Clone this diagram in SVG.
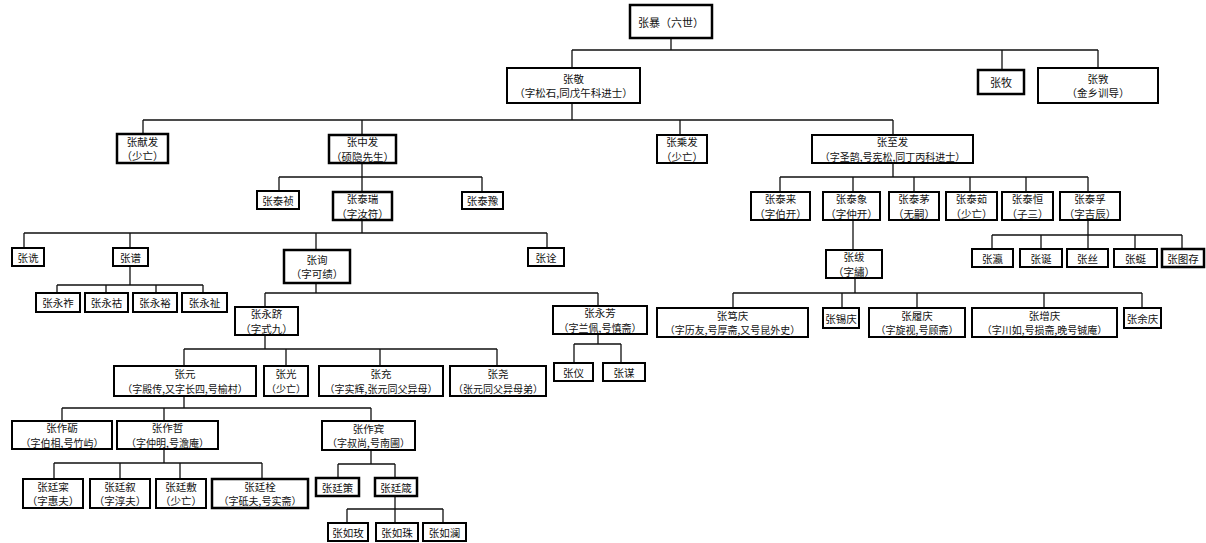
<svg xmlns="http://www.w3.org/2000/svg" width="1206" height="543" viewBox="0 0 1206 543">
<style>
rect{fill:#fff;stroke:#000;stroke-width:2}
text{font-family:"Noto Sans CJK SC","Noto Sans CJK TC",sans-serif;font-size:10.5px;fill:#111;text-anchor:middle;dominant-baseline:central}
.sm{font-size:10px}
.big{font-size:11px}
#connectors path{fill:none;stroke:#111;stroke-width:1.3}
</style>
<rect x="0" y="0" width="1206" height="543" style="fill:#fff;stroke:none"/>
<g id="connectors">
<path d="M671 38V50 M572 50H1098 M572 50V68 M1002 50V70 M1098 50V68"/>
<path d="M572 103V120 M143 120H893 M143 120V134 M362 120V135 M680 120V135 M893 120V135"/>
<path d="M362 163V177 M279 177H482 M279 177V191 M362 177V192 M482 177V192"/>
<path d="M893 163V177 M780 177H1088 M780 177V192 M853 177V192 M914 177V192 M970 177V192 M1026 177V192 M1088 177V192"/>
<path d="M853 220V250"/>
<path d="M1088 220V235 M992 235H1182 M992 235V249 M1041 235V249 M1088 235V249 M1135 235V249 M1182 235V249"/>
<path d="M855 278V293 M733 293H1142 M733 293V308 M842 293V308 M917 293V308 M1044 293V308 M1142 293V308"/>
<path d="M362 220V233 M24 233H547 M24 233V248 M130 233V248 M316 233V250 M547 233V248"/>
<path d="M130 266V285 M57 285H203 M57 285V293 M106 285V293 M156 285V293 M203 285V293"/>
<path d="M316 283V293 M265 293H598 M265 293V307 M598 293V306"/>
<path d="M598 334V344 M574 344H621 M574 344V363 M621 344V363"/>
<path d="M265 335V349 M184 349H497 M184 349V366 M286 349V366 M380 349V366 M497 349V366"/>
<path d="M184 396V408 M62 408H371 M62 408V421 M164 408V421 M371 408V421"/>
<path d="M164 449V463 M54 463H262 M54 463V479 M120 463V479 M180 463V479 M262 463V479"/>
<path d="M371 450V464 M338 464H395 M338 464V478 M395 464V478"/>
<path d="M395 496V509 M347 509H443 M347 509V523 M395 509V523 M443 509V523"/>
</g>
<g id="n-zhangbao"><rect x="630" y="5" width="82" height="33" style="stroke-width:2.5"/><text class="big" x="671" y="21.5">张暴（六世）</text></g>
<g id="n-zhangjing"><rect x="507" y="68" width="133" height="35"/><text x="573.5" y="78.25">张敬</text><text x="573.5" y="92.75">（字松石,同戊午科进士）</text></g>
<g id="n-zhangmu"><rect x="978" y="70" width="46" height="24" style="stroke-width:2.5"/><text class="big" x="1001" y="82">张牧</text></g>
<g id="n-zhangxiao"><rect x="1038" y="68" width="120" height="35"/><text x="1098" y="78.25">张敩</text><text x="1098" y="92.75">（金乡训导）</text></g>
<g id="n-zhangxianfa"><rect x="117" y="134" width="51" height="29" style="stroke-width:2.5"/><text x="142.5" y="141.25">张献发</text><text x="142.5" y="155.75">（少亡）</text></g>
<g id="n-zhangzhongfa"><rect x="329" y="135" width="67" height="28" style="stroke-width:2.5"/><text x="362.5" y="141.75">张中发</text><text x="362.5" y="156.25">（硕隐先生）</text></g>
<g id="n-zhangchengfa"><rect x="657" y="135" width="50" height="28"/><text x="682" y="141.75">张乘发</text><text x="682" y="156.25">（少亡）</text></g>
<g id="n-zhangzhifa"><rect x="812" y="135" width="161" height="28"/><text x="892.5" y="141.75">张至发</text><text class="sm" x="892.5" y="156.25">（字圣鹄,号宪松,同丁丙科进士）</text></g>
<g id="n-zhangtaizhen"><rect x="257" y="191" width="42" height="18"/><text x="278" y="200">张泰祯</text></g>
<g id="n-zhangtairui"><rect x="333" y="192" width="59" height="28" style="stroke-width:2.5"/><text x="362.5" y="198.75">张泰瑞</text><text x="362.5" y="213.25">（字汝符）</text></g>
<g id="n-zhangtaiyu"><rect x="462" y="192" width="41" height="17"/><text x="482.5" y="200.5">张泰豫</text></g>
<g id="n-zhangtailai"><rect x="751" y="192" width="59" height="28"/><text x="780.5" y="198.75">张泰来</text><text x="780.5" y="213.25">（字伯开）</text></g>
<g id="n-zhangtaixiang"><rect x="823" y="192" width="57" height="28"/><text x="851.5" y="198.75">张泰象</text><text x="851.5" y="213.25">（字仲开）</text></g>
<g id="n-zhangtaimao"><rect x="889" y="192" width="50" height="28"/><text x="914" y="198.75">张泰茅</text><text x="914" y="213.25">（无嗣）</text></g>
<g id="n-zhangtairu"><rect x="946" y="192" width="51" height="28"/><text x="971.5" y="198.75">张泰茹</text><text x="971.5" y="213.25">（少亡）</text></g>
<g id="n-zhangtaiheng"><rect x="1002" y="192" width="51" height="28"/><text x="1027.5" y="198.75">张泰恒</text><text x="1027.5" y="213.25">（子三）</text></g>
<g id="n-zhangtaifu"><rect x="1060" y="192" width="60" height="28"/><text x="1090" y="198.75">张泰孚</text><text x="1090" y="213.25">（字吉辰）</text></g>
<g id="n-zhangying"><rect x="972" y="249" width="41" height="18"/><text x="992.5" y="258">张瀛</text></g>
<g id="n-zhangdan"><rect x="1020" y="249" width="42" height="18"/><text x="1041" y="258">张诞</text></g>
<g id="n-zhangsi"><rect x="1067" y="249" width="41" height="18"/><text x="1087.5" y="258">张丝</text></g>
<g id="n-zhangting"><rect x="1114" y="249" width="43" height="18"/><text x="1135.5" y="258">张蜓</text></g>
<g id="n-zhangtucun"><rect x="1162" y="249" width="42" height="18" style="stroke-width:2.5"/><text x="1183" y="258">张图存</text></g>
<g id="n-zhangfu"><rect x="826" y="250" width="56" height="28"/><text x="854" y="256.75">张绂</text><text x="854" y="271.25">（字繡）</text></g>
<g id="n-zhangduqing"><rect x="657" y="308" width="151" height="29"/><text x="732.5" y="315.25">张笃庆</text><text class="sm" x="732.5" y="329.75">（字历友,号厚斋,又号昆外史）</text></g>
<g id="n-zhangxiqing"><rect x="823" y="308" width="36" height="20"/><text x="841" y="318">张锡庆</text></g>
<g id="n-zhangluqing"><rect x="869" y="308" width="96" height="29"/><text x="917" y="315.25">张履庆</text><text class="sm" x="917" y="329.75">（字旋视,号顾斋）</text></g>
<g id="n-zhangzengqing"><rect x="972" y="308" width="145" height="29"/><text x="1044.5" y="315.25">张增庆</text><text class="sm" x="1044.5" y="329.75">（字川如,号损斋,晚号铖庵）</text></g>
<g id="n-zhangyuqing"><rect x="1124" y="308" width="37" height="20"/><text x="1142.5" y="318">张余庆</text></g>
<g id="n-zhangshen"><rect x="12" y="248" width="32" height="18"/><text x="28" y="257">张诜</text></g>
<g id="n-zhangpu"><rect x="113" y="248" width="35" height="18"/><text x="130.5" y="257">张谱</text></g>
<g id="n-zhangxun"><rect x="284" y="250" width="66" height="33" style="stroke-width:2.5"/><text x="317" y="259.25">张询</text><text x="317" y="273.75">（字可绩）</text></g>
<g id="n-zhangquan"><rect x="528" y="248" width="36" height="18"/><text x="546" y="257">张诠</text></g>
<g id="n-zhangyongzuo"><rect x="36" y="293" width="44" height="19"/><text x="58" y="302.5">张永祚</text></g>
<g id="n-zhangyonghu"><rect x="85" y="293" width="43" height="19"/><text x="106.5" y="302.5">张永祜</text></g>
<g id="n-zhangyongyu"><rect x="133" y="293" width="44" height="19"/><text x="155" y="302.5">张永裕</text></g>
<g id="n-zhangyongzhi"><rect x="182" y="293" width="45" height="19"/><text x="204.5" y="302.5">张永祉</text></g>
<g id="n-zhangyongji"><rect x="235" y="307" width="63" height="28"/><text x="266.5" y="313.75">张永跻</text><text x="266.5" y="328.25">（字式九）</text></g>
<g id="n-zhangyongfang"><rect x="553" y="306" width="94" height="28"/><text x="600" y="312.75">张永芳</text><text class="sm" x="600" y="327.25">（字兰佩,号慎斋）</text></g>
<g id="n-zhangyi"><rect x="554" y="363" width="39" height="18"/><text x="573.5" y="372">张仪</text></g>
<g id="n-zhangmou"><rect x="603" y="363" width="42" height="18"/><text x="624" y="372">张谋</text></g>
<g id="n-zhangyuan"><rect x="114" y="366" width="142" height="30"/><text x="185" y="373.75">张元</text><text class="sm" x="185" y="388.25">（字殿传,又字长四,号榆村）</text></g>
<g id="n-zhangguang"><rect x="264" y="366" width="44" height="30"/><text x="286" y="373.75">张光</text><text class="sm" x="286" y="388.25">（少亡）</text></g>
<g id="n-zhangchong"><rect x="319" y="366" width="124" height="30"/><text x="381" y="373.75">张充</text><text class="sm" x="381" y="388.25">（字实辉,张元同父异母）</text></g>
<g id="n-zhangyao"><rect x="450" y="366" width="96" height="30"/><text x="498" y="373.75">张尧</text><text class="sm" x="498" y="388.25">（张元同父异母弟）</text></g>
<g id="n-zhangzuoli"><rect x="12" y="421" width="100" height="28"/><text x="62" y="427.75">张作砺</text><text class="sm" x="62" y="442.25">（字伯相,号竹屿）</text></g>
<g id="n-zhangzuozhe"><rect x="117" y="421" width="101" height="28"/><text x="167.5" y="427.75">张作哲</text><text class="sm" x="167.5" y="442.25">（字仲明,号澹庵）</text></g>
<g id="n-zhangzuobin"><rect x="322" y="421" width="93" height="29"/><text x="368.5" y="428.25">张作宾</text><text class="sm" x="368.5" y="442.75">（字叔尚,号南圃）</text></g>
<g id="n-zhangtingcai"><rect x="23" y="479" width="60" height="29"/><text x="53" y="486.25">张廷寀</text><text x="53" y="500.75">（字惠夫）</text></g>
<g id="n-zhangtingxu"><rect x="90" y="479" width="60" height="29"/><text x="120" y="486.25">张廷叙</text><text x="120" y="500.75">（字淳夫）</text></g>
<g id="n-zhangtingfu"><rect x="156" y="479" width="50" height="29"/><text x="181" y="486.25">张廷敷</text><text x="181" y="500.75">（少亡）</text></g>
<g id="n-zhangtingshuan"><rect x="212" y="479" width="96" height="29" style="stroke-width:2.5"/><text x="260" y="486.25">张廷栓</text><text class="sm" x="260" y="500.75">（字砥夫,号实斋）</text></g>
<g id="n-zhangtingce"><rect x="316" y="478" width="43" height="18" style="stroke-width:2.5"/><text x="337.5" y="487">张廷策</text></g>
<g id="n-zhangtingzhen"><rect x="375" y="478" width="42" height="18" style="stroke-width:2.5"/><text x="396" y="487">张廷箴</text></g>
<g id="n-zhangrumei"><rect x="328" y="523" width="40" height="18"/><text x="348" y="532">张如玫</text></g>
<g id="n-zhangruzhu"><rect x="376" y="523" width="42" height="18"/><text x="397" y="532">张如珠</text></g>
<g id="n-zhangrulan"><rect x="423" y="523" width="43" height="18"/><text x="444.5" y="532">张如澜</text></g>
</svg>
